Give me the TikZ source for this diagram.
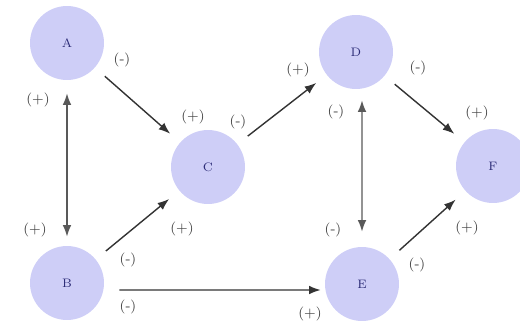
\documentclass[tikz,border=0pt]{standalone}
\usetikzlibrary{arrows.meta}
\definecolor{statefill}{RGB}{206,206,247}
\definecolor{stateletter}{RGB}{45,45,120}

\begin{document}
\begin{tikzpicture}[x=0.02cm,y=-0.02cm,>=Latex,every node/.style={font=\footnotesize},
  state/.style={circle,fill=statefill,minimum size=1.48cm,inner sep=0pt,text=stateletter,font=\scriptsize},
  sign/.style={text=black!75},
  link/.style={->,thick,draw=black!80,shorten <=0.26cm,shorten >=0.26cm},
  both/.style={<->,thick,draw=black!65,shorten <=0.26cm,shorten >=0.18cm}]
\useasboundingbox (0,0) rectangle (520,328);
% states
\node[state] (A) at (67,43) {A};
\node[state] (B) at (67,283) {B};
\node[state] (C) at (208,167) {C};
\node[state] (D) at (356,52) {D};
\node[state] (E) at (362,284) {E};
\node[state] (F) at (493,166) {F};
% connectors
\draw[both] (A) -- (B);
\draw[link] (A) -- (C);
\draw[link] (B) -- (C);
\draw[link,shorten <=0.3cm,shorten >=0.08cm] ([yshift=-0.14cm]B.east) -- ([yshift=-0.12cm]E.west);
\draw[link] (C) -- (D);
\draw[both,shorten <=0.22cm,shorten >=0.3cm] ([xshift=0.12cm]D.south) -- (E.north);
\draw[link] (D) -- (F);
\draw[link] (E) -- (F);
% signs
\node[sign] (sAB) at (38,100) {(+)};
\node[sign] (sBA) at (35,230) {(+)};
\node[sign] (sAC) at (122,60) {(-)};
\node[sign] (sCA) at (193,117) {(+)};
\node[sign] (sBC) at (128,260) {(-)};
\node[sign] (sCB) at (182,229) {(+)};
\node[sign] (sBE) at (128,307) {(-)};
\node[sign] (sEB) at (310,314) {(+)};
\node[sign] (sCD) at (238,122) {(-)};
\node[sign] (sDC) at (298,70) {(+)};
\node[sign] (sDE) at (336,112) {(-)};
\node[sign] (sED) at (333,230) {(-)};
\node[sign] (sDF) at (418,68) {(-)};
\node[sign] (sFD) at (477,113) {(+)};
\node[sign] (sEF) at (417,265) {(-)};
\node[sign] (sFE) at (467,228) {(+)};
\end{tikzpicture}
\end{document}
